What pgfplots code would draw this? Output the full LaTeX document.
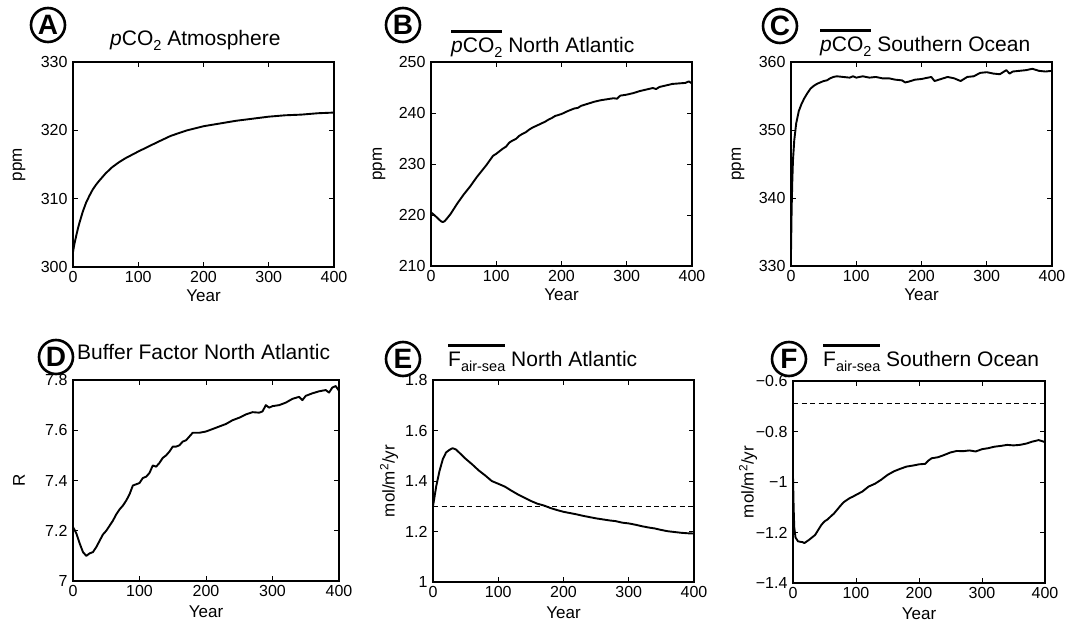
\documentclass[border=0pt]{standalone}
\usepackage{pgfplots}
\pgfplotsset{compat=1.18}
\usepackage{fontspec}
\setmainfont{Liberation Sans}
\newcommand\fs[1]{\fontsize{#1}{#1}\selectfont}
\newcommand\ovl[1]{\setbox0=\hbox{#1}\rlap{\raisebox{19.5pt}{\rule{\wd0}{3pt}}}\box0\relax}
\newcommand\sub[1]{\raisebox{-0.22em}{\fs{14.5}#1}}
\pgfplotsset{
  panel/.style={
    scale only axis, xmin=0, xmax=400, xtick={0,100,200,300,400},
    tick align=inside, xtick pos=both, ytick pos=both,
    major tick length=5pt, minor tick num=0,
    axis line style={line width=1.5pt},
    every tick/.style={line width=0.9pt, black},
    /pgf/number format/assume math mode=true,
    tick label style={font=\fs{16}},
    xticklabel style={yshift=-1pt},
    yticklabel style={xshift=-2pt},
    label style={font=\fs{17}},
    xlabel={Year},
    xlabel style={at={(axis description cs:0.5,0)}, anchor=center, yshift=-29pt},
    anchor=south west,
  },
  curve/.style={black, line width=1.9pt, line join=round},
  dash/.style={black, line width=1.3pt, dash pattern=on 5pt off 3.5pt},
}
\begin{document}
\begin{tikzpicture}[x=1pt,y=1pt]
\path[use as bounding box] (0,0) rectangle (1069,627);
% A
\begin{axis}[panel, at={(73pt,360pt)}, width=261pt, height=205pt,
  ymin=300, ymax=330, ytick={300,310,320,330}, ylabel={ppm},
  ylabel style={at={(axis description cs:0,0.5)}, anchor=center, yshift=54pt}]
\addplot[curve] coordinates {
(0,302.2)(2,303.3)(5,304.6)(8,305.8)(10,306.5)(15,308.1)(20,309.4)(25,310.4)(30,311.3)(35,312.0)(40,312.6)(50,313.7)(60,314.6)(70,315.3)(80,315.9)(90,316.4)(100,316.9)(115,317.6)(130,318.3)(150,319.2)(175,320.0)(200,320.6)(225,321.0)(250,321.4)(275,321.7)(300,322.0)(325,322.2)(350,322.3)(375,322.5)(400,322.6)};
\end{axis}
% B
\begin{axis}[panel, at={(431pt,361pt)}, width=261pt, height=204pt,
  ymin=210, ymax=250, ytick={210,220,230,240,250}, ylabel={ppm},
  ylabel style={at={(axis description cs:0,0.5)}, anchor=center, yshift=52pt}]
\addplot[curve] coordinates {
(0,220.5)(5,220.0)(10,219.4)(15,218.8)(18,218.6)(21,218.8)(25,219.4)(30,220.2)(35,221.2)(40,222.2)(45,223.1)(50,224.0)(55,224.8)(60,225.6)(65,226.5)(70,227.4)(75,228.2)(80,229.0)(85,229.8)(90,230.7)(95,231.6)(100,232.0)(105,232.5)(110,233.0)(115,233.4)(120,234.2)(125,234.6)(130,234.9)(135,235.5)(140,235.9)(145,236.2)(150,236.7)(155,237.1)(160,237.4)(165,237.7)(170,238.0)(175,238.3)(180,238.7)(185,239.0)(190,239.4)(195,239.6)(200,239.8)(210,240.4)(220,240.9)(225,241.0)(230,241.4)(240,241.8)(250,242.2)(260,242.5)(270,242.7)(280,242.9)(285,242.8)(290,243.4)(300,243.6)(310,243.9)(320,244.3)(330,244.6)(340,244.9)(345,244.7)(350,245.1)(360,245.4)(370,245.7)(380,245.8)(390,245.9)(395,246.2)(400,245.8)};
\end{axis}
% C
\begin{axis}[panel, at={(791pt,361pt)}, width=261pt, height=204pt,
  ymin=330, ymax=360, ytick={330,340,350,360}, ylabel={ppm},
  ylabel style={at={(axis description cs:0,0.5)}, anchor=center, yshift=53pt}]
\addplot[curve] coordinates {
(0,332.0)(1,338.5)(2,342.5)(3,345.5)(5,348.5)(8,351.0)(12,352.8)(16,353.8)(20,354.6)(25,355.4)(30,356.1)(35,356.5)(40,356.8)(45,357.0)(50,357.2)(55,357.3)(60,357.6)(65,357.8)(70,357.9)(80,357.8)(90,357.7)(95,357.9)(100,357.7)(110,357.9)(120,357.7)(130,357.8)(140,357.6)(150,357.6)(160,357.4)(170,357.3)(175,357.0)(180,357.1)(190,357.4)(200,357.5)(210,357.7)(215,357.8)(220,357.2)(230,357.5)(240,357.8)(250,357.6)(260,357.2)(270,357.8)(280,357.9)(290,358.4)(300,358.5)(310,358.3)(320,358.2)(330,358.8)(335,358.3)(340,358.6)(350,358.7)(360,358.8)(370,359.0)(380,358.7)(390,358.6)(400,358.7)};
\end{axis}
% D
\begin{axis}[panel, at={(73pt,46pt)}, width=266pt, height=201pt,
  ymin=7, ymax=7.8, ytick={7,7.2,7.4,7.6,7.8}, ylabel={R},
  xlabel style={yshift=-2pt},
  ylabel style={at={(axis description cs:0,0.5)}, anchor=center, yshift=54pt}]
\addplot[curve] coordinates {
(0,7.215)(5,7.19)(10,7.15)(15,7.115)(20,7.100)(25,7.11)(30,7.115)(35,7.135)(40,7.16)(45,7.185)(50,7.20)(55,7.22)(60,7.24)(65,7.265)(70,7.285)(75,7.30)(80,7.32)(85,7.345)(90,7.38)(95,7.385)(100,7.39)(105,7.41)(110,7.415)(115,7.43)(120,7.46)(125,7.455)(130,7.47)(135,7.49)(140,7.50)(145,7.515)(150,7.535)(155,7.535)(160,7.54)(165,7.555)(170,7.56)(175,7.575)(180,7.59)(190,7.59)(200,7.595)(210,7.605)(220,7.615)(230,7.625)(240,7.64)(250,7.65)(260,7.663)(270,7.672)(280,7.67)(285,7.675)(290,7.70)(295,7.69)(300,7.696)(310,7.70)(320,7.71)(330,7.725)(340,7.733)(345,7.72)(350,7.737)(360,7.747)(370,7.755)(380,7.76)(385,7.75)(390,7.77)(395,7.776)(400,7.757)};
\end{axis}
% E
\begin{axis}[panel, at={(433pt,45pt)}, width=261pt, height=202pt,
  ymin=1, ymax=1.8, ytick={1,1.2,1.4,1.6,1.8}, ylabel={mol/m\textsuperscript{2}/yr},
  xlabel style={yshift=-2pt},
  ylabel style={at={(axis description cs:0,0.5)}, anchor=center, yshift=44pt}]
\addplot[dash] coordinates {(0,1.3)(400,1.3)};
\addplot[curve] coordinates {
(0,1.30)(5,1.38)(10,1.44)(15,1.486)(20,1.513)(25,1.523)(30,1.530)(35,1.525)(40,1.513)(50,1.488)(60,1.466)(70,1.442)(80,1.422)(90,1.400)(100,1.389)(110,1.378)(120,1.362)(130,1.347)(140,1.334)(150,1.321)(160,1.310)(170,1.303)(180,1.293)(190,1.285)(200,1.278)(210,1.273)(220,1.268)(230,1.262)(240,1.257)(250,1.252)(260,1.248)(270,1.244)(280,1.241)(290,1.235)(300,1.232)(310,1.227)(320,1.221)(330,1.216)(340,1.212)(350,1.206)(360,1.201)(370,1.198)(380,1.195)(390,1.193)(400,1.192)};
\end{axis}
% F
\begin{axis}[panel, at={(793pt,44pt)}, width=252pt, height=202pt,
  ymin=-1.4, ymax=-0.6, ytick={-1.4,-1.2,-1,-0.8,-0.6},
  yticklabels={−1.4,−1.2,−1,−0.8,−0.6}, ylabel={mol/m\textsuperscript{2}/yr},
  xlabel style={yshift=-2pt},
  ylabel style={at={(axis description cs:0,0.5)}, anchor=center, yshift=45pt}]
\addplot[dash] coordinates {(0,-0.69)(400,-0.69)};
\addplot[curve] coordinates {
(0,-0.978)(1,-1.10)(2,-1.18)(4,-1.22)(8,-1.235)(12,-1.237)(15,-1.238)(18,-1.242)(22,-1.235)(25,-1.23)(30,-1.22)(35,-1.21)(40,-1.19)(45,-1.17)(50,-1.156)(55,-1.148)(60,-1.136)(65,-1.125)(70,-1.11)(75,-1.095)(80,-1.081)(85,-1.072)(90,-1.064)(95,-1.058)(100,-1.051)(110,-1.038)(120,-1.018)(130,-1.007)(140,-0.991)(150,-0.972)(160,-0.958)(170,-0.948)(180,-0.939)(190,-0.935)(200,-0.930)(210,-0.928)(215,-0.915)(220,-0.906)(230,-0.902)(240,-0.893)(250,-0.883)(260,-0.877)(270,-0.878)(280,-0.875)(290,-0.879)(300,-0.870)(310,-0.866)(320,-0.860)(330,-0.857)(340,-0.853)(350,-0.855)(360,-0.853)(370,-0.848)(380,-0.840)(390,-0.834)(400,-0.842)};
\end{axis}
% titles
\tikzset{lab/.style={draw, circle, line width=2.6pt, minimum size=34pt, inner sep=0pt, font=\fs{28}\bfseries}}
\node[lab] at (48,602) {A};
\node[lab] at (403,602) {B};
\node[lab] at (780,601) {C};
\node[lab] at (56,270) {D};
\node[lab] at (403,268) {E};
\node[lab] at (789,268) {F};
\node[anchor=base west, inner sep=0, font=\fs{21}] at (110,581) {\textit{p}CO\sub{2} Atmosphere};
\node[anchor=base west, inner sep=0, font=\fs{21}] at (451,574) {\ovl{\textit{p}CO\sub{2}} North Atlantic};
\node[anchor=base west, inner sep=0, font=\fs{21}] at (820,575) {\ovl{\textit{p}CO\sub{2}} Southern Ocean};
\node[anchor=base west, inner sep=0, font=\fs{21}] at (77,267) {Buffer Factor North Atlantic};
\node[anchor=base west, inner sep=0, font=\fs{21}] at (448,260) {\ovl{F\sub{air-sea}} North Atlantic};
\node[anchor=base west, inner sep=0, font=\fs{21}] at (823,260) {\ovl{F\sub{air-sea}} Southern Ocean};
\end{tikzpicture}
\end{document}
